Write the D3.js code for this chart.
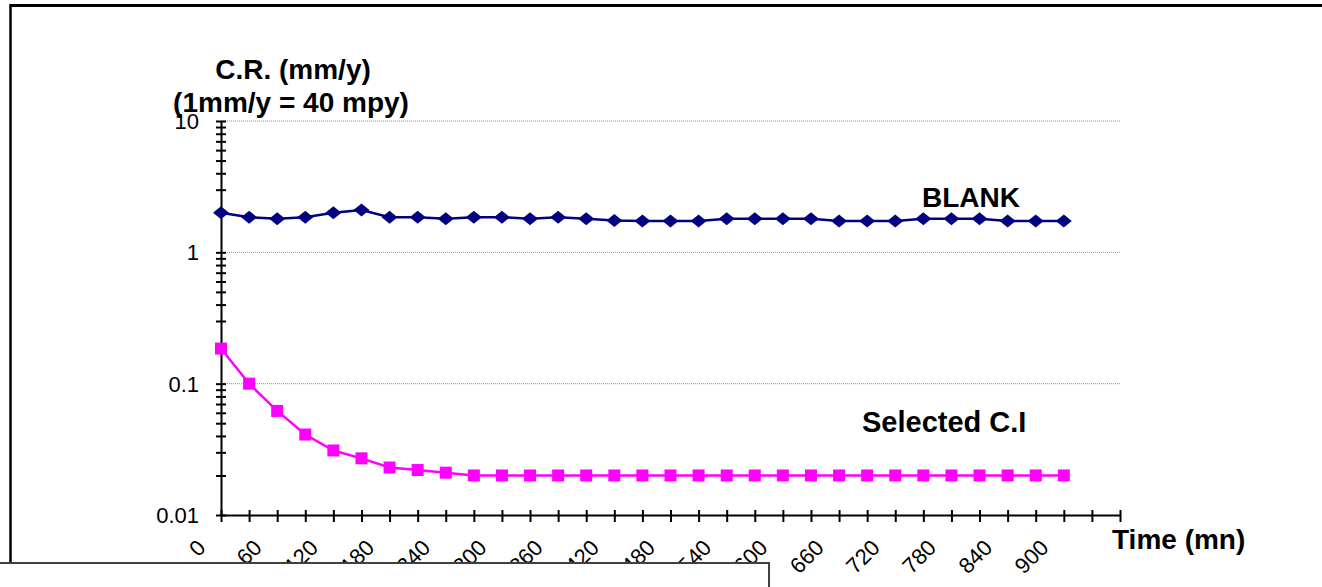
<!DOCTYPE html>
<html>
<head>
<meta charset="utf-8">
<script src="https://cdnjs.cloudflare.com/ajax/libs/d3/7.8.5/d3.min.js"></script>
<style>
  body { margin: 0; background: #fff; }
  svg { display: block; font-family: 'Liberation Sans', Arial, sans-serif; }
</style>
</head>
<body>
<div id="chart"></div>
<script>
(function(d3) {
  'use strict';

  // time in minutes
  var times = [0, 30, 60, 90, 120, 150, 180, 210, 240, 270, 300, 330, 360, 390, 420, 450,
               480, 510, 540, 570, 600, 630, 660, 690, 720, 750, 780, 810, 840, 870, 900];
  // corrosion rate, mm/y
  var blank = [2.0, 1.85, 1.8, 1.85, 2.0, 2.1, 1.85, 1.85, 1.8, 1.85, 1.85, 1.8, 1.85, 1.8,
               1.75, 1.73, 1.73, 1.73, 1.8, 1.8, 1.8, 1.8, 1.73, 1.73, 1.73, 1.8, 1.8, 1.8,
               1.73, 1.73, 1.73];
  var selectedCI = [0.185, 0.1, 0.062, 0.041, 0.031, 0.027, 0.023, 0.022, 0.021, 0.02, 0.02,
                    0.02, 0.02, 0.02, 0.02, 0.02, 0.02, 0.02, 0.02, 0.02, 0.02, 0.02, 0.02,
                    0.02, 0.02, 0.02, 0.02, 0.02, 0.02, 0.02, 0.02];
  var xTickValues = [0, 30, 60, 90, 120, 150, 180, 210, 240, 270, 300, 330, 360, 390, 420, 450,
                     480, 510, 540, 570, 600, 630, 660, 690, 720, 750, 780, 810, 840, 870, 900,
                     930, 960];
  var xTickLabels = [0, 60, 120, 180, 240, 300, 360, 420, 480, 540, 600, 660, 720, 780, 840, 900];
  var yTickLabels = [0.01, 0.1, 1, 10];

  var width = 1322;
  var height = 587;

  var x = d3.scaleLinear().domain([0, 960]).range([221, 1120]);
  var y = d3.scaleLog().domain([0.01, 10]).range([515, 121]);

  var svg = d3.select('#chart')
    .append('svg')
    .attr('width', width)
    .attr('height', height);

  // outer frame
  svg.append('line')
    .attr('x1', 10).attr('x2', width + 5)
    .attr('y1', 5.5).attr('y2', 5.5)
    .attr('stroke', '#000').attr('stroke-width', 3);
  svg.append('line')
    .attr('x1', 10.5).attr('x2', 10.5)
    .attr('y1', 4).attr('y2', 565)
    .attr('stroke', '#000').attr('stroke-width', 2.5);

  // gridlines
  svg.append('g')
    .selectAll('line')
    .data(yTickLabels.slice(1))
    .enter()
    .append('line')
    .attr('x1', x(0)).attr('x2', x(960))
    .attr('y1', function(d) { return y(d); })
    .attr('y2', function(d) { return y(d); })
    .attr('stroke', '#8c8c8c')
    .attr('stroke-width', 1)
    .attr('stroke-dasharray', '1,1');

  // y axis with log minor ticks crossing the line
  var yAxis = d3.axisLeft(y)
    .tickValues(y.ticks())
    .tickFormat('')
    .tickSizeInner(5)
    .tickSizeOuter(0);
  var yg = svg.append('g')
    .attr('transform', 'translate(' + x(0) + ',0)')
    .call(yAxis);
  yg.select('.domain').attr('stroke', '#000').attr('stroke-width', 2);
  yg.selectAll('.tick line')
    .attr('x1', 5)
    .attr('stroke', '#000')
    .attr('stroke-width', 2);

  svg.append('g')
    .selectAll('text')
    .data(yTickLabels)
    .enter()
    .append('text')
    .attr('x', 199)
    .attr('y', function(d) { return y(d); })
    .attr('dy', '0.36em')
    .attr('text-anchor', 'end')
    .attr('font-size', 22)
    .text(function(d) { return d; });

  // x axis
  var xAxis = d3.axisBottom(x)
    .tickValues(xTickValues)
    .tickFormat('')
    .tickSizeInner(7)
    .tickSizeOuter(0);
  var xg = svg.append('g')
    .attr('transform', 'translate(0,' + y(0.01) + ')')
    .call(xAxis);
  xg.select('.domain').attr('stroke', '#000').attr('stroke-width', 2);
  xg.selectAll('.tick line')
    .attr('y1', -5)
    .attr('stroke', '#000')
    .attr('stroke-width', 2);

  svg.append('g')
    .selectAll('text')
    .data(xTickLabels)
    .enter()
    .append('text')
    .attr('transform', function(d) {
      return 'translate(' + (x(d) - 14) + ',' + (y(0.01) + 34) + ') rotate(-45)';
    })
    .attr('text-anchor', 'end')
    .attr('font-size', 22)
    .text(function(d) { return d; });

  // series
  var line = d3.line()
    .x(function(d, i) { return x(times[i]); })
    .y(function(d) { return y(d); });

  svg.append('path')
    .datum(blank)
    .attr('d', line)
    .attr('fill', 'none')
    .attr('stroke', '#000080')
    .attr('stroke-width', 2.5);

  svg.append('path')
    .datum(selectedCI)
    .attr('d', line)
    .attr('fill', 'none')
    .attr('stroke', '#ff00ff')
    .attr('stroke-width', 2.5);

  svg.append('g')
    .selectAll('path')
    .data(blank)
    .enter()
    .append('path')
    .attr('d', 'M0,-6.5L8,0L0,6.5L-8,0Z')
    .attr('transform', function(d, i) {
      return 'translate(' + x(times[i]) + ',' + y(d) + ')';
    })
    .attr('fill', '#000080');

  svg.append('g')
    .selectAll('rect')
    .data(selectedCI)
    .enter()
    .append('rect')
    .attr('x', function(d, i) { return x(times[i]) - 6; })
    .attr('y', function(d) { return y(d) - 6; })
    .attr('width', 12)
    .attr('height', 12)
    .attr('fill', '#ff00ff');

  // labels
  var bold = svg.append('g')
    .attr('font-weight', 'bold')
    .attr('font-size', 28);

  bold.append('text')
    .attr('x', 293).attr('y', 79)
    .attr('text-anchor', 'middle')
    .text('C.R. (mm/y)');
  bold.append('text')
    .attr('x', 291).attr('y', 112)
    .attr('text-anchor', 'middle')
    .text('(1mm/y = 40 mpy)');
  bold.append('text')
    .attr('x', 922).attr('y', 207)
    .text('BLANK');
  bold.append('text')
    .attr('x', 862).attr('y', 432)
    .attr('font-size', 29)
    .text('Selected C.I');
  bold.append('text')
    .attr('x', 1112).attr('y', 549)
    .text('Time (mn)');

  // overlapping box along the bottom
  svg.append('rect')
    .attr('x', -5).attr('y', 563)
    .attr('width', 774).attr('height', 40)
    .attr('fill', '#fff')
    .attr('stroke', '#404040')
    .attr('stroke-width', 2);

})(window.d3);
</script>
</body>
</html>
